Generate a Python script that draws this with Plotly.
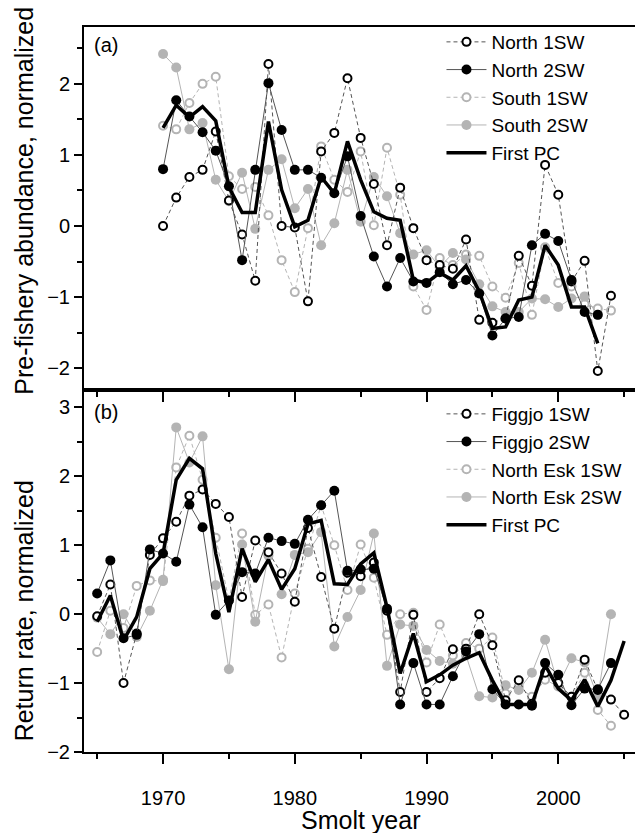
import plotly.graph_objects as go
from plotly.subplots import make_subplots

# ---------------- data ----------------
years_a = list(range(1970, 2005))
north_1sw = [0.00, 0.40, 0.69, 0.79, 1.33, 0.36, -0.12, -0.77, 2.28, 0.00,
             -0.02, -1.06, 1.05, 1.31, 2.08, 1.24, 0.59, -0.27, 0.54, -0.03,
             -0.48, -0.55, -0.60, -0.19, -1.32, -1.36, -1.30, -0.42, -0.84, 0.86,
             0.44, -0.78, -0.49, -2.04, -0.98]
north_2sw = [0.80, 1.77, 1.54, 1.32, 1.06, 0.56, -0.48, 0.79, 2.01, 1.35,
             0.79, 0.79, 0.68, 0.46, 0.98, 0.14, -0.43, -0.85, -0.45, -0.78,
             -0.80, -0.65, -0.82, -0.76, -0.95, -1.54, -1.30, -1.28, -0.27, -0.11,
             -0.21, -0.76, -1.21, -1.25, None]
south_1sw = [1.41, 1.36, 1.73, 2.00, 2.10, 0.70, 0.52, 0.55, 0.15, -0.48,
             -0.93, -0.03, 1.12, 0.65, 0.48, 1.05, 0.01, 1.10, 0.44, -0.85,
             -1.18, -0.45, -0.55, -0.40, -0.42, -0.85, -1.01, -0.52, -1.25, -0.30,
             -0.80, -0.85, -1.10, -1.16, -1.19]
south_2sw = [2.42, 2.23, 1.36, 1.45, 0.65, 0.35, 0.75, -0.04, 0.79, 0.94,
             0.25, 0.52, -0.27, 0.04, 0.79, 0.06, 0.69, 0.42, -0.10, -0.40,
             -0.34, -0.58, -0.38, -0.47, -0.82, -1.13, -1.21, -1.21, -1.02, -1.03,
             -1.14, -1.02, -0.99, -1.25, None]
pc_a = [1.38, 1.70, 1.53, 1.68, 1.48, 0.55, 0.19, 0.19, 1.47, 0.51,
        -0.01, 0.08, 0.69, 0.46, 1.19, 0.65, 0.20, 0.11, 0.08, -0.76,
        -0.80, -0.66, -0.76, -0.56, -0.92, -1.44, -1.42, -1.04, -1.00, -0.27,
        -0.55, -1.14, -1.14, -1.65, None]

years_b = list(range(1965, 2006))
figgjo_1sw = [-0.03, 0.43, -1.00, -0.28, 0.86, 1.10, 1.34, 1.72, 1.81, 1.60,
              1.41, 0.25, 1.07, 0.90, 0.59, 0.18, 1.25, 0.54, -0.21, 0.60,
              0.55, 0.75, 0.05, -1.13, -0.01, -1.13, -0.93, -0.51, -0.50, 0.00,
              -0.45, -1.25, -0.96, -1.30, -0.85, -1.00, -1.20, -0.66, -1.10, -1.24,
              -1.46]
figgjo_2sw = [0.30, 0.78, -0.35, -0.30, 0.94, 0.88, 0.76, 1.59, 1.26, -0.01,
              0.20, 0.61, 0.59, 1.11, 1.06, 1.02, 1.37, 1.58, 1.79, 0.63,
              0.65, 0.66, 0.08, -1.31, -0.71, -1.31, -1.31, -0.90, -0.54, -0.29,
              -1.09, -1.31, -1.31, -1.33, -0.71, -0.88, -1.32, -1.08, -1.09, -0.71,
              None]
north_esk_1sw = [-0.55, 0.05, -0.20, 0.41, 0.49, 0.48, 2.13, 2.59, 1.95, 1.11,
                 0.20, 1.17, -0.01, 0.14, -0.63, 0.30, 0.95, 1.58, 1.00, 0.35,
                 1.01, 0.53, -0.30, 0.00, 0.02, -0.70, -0.15, -0.60, -0.42, -0.50,
                 -0.34, -1.15, -1.05, -1.20, -0.95, -1.05, -1.20, -0.85, -1.39, -1.62,
                 None]
north_esk_2sw = [-0.05, -0.29, 0.00, -0.33, 0.05, 0.50, 2.71, 2.20, 2.58, 0.42,
                 -0.80, 1.01, -0.11, 0.85, 0.29, 0.86, 0.90, 1.19, -0.47, -0.04,
                 0.35, 1.17, -0.75, -0.15, -0.17, -0.52, -0.68, -0.72, -0.60, -1.19,
                 -1.21, -1.03, -1.10, -0.85, -0.37, -1.03, -0.64, -0.70, -1.20, 0.00,
                 None]
pc_b = [-0.11, 0.27, -0.38, -0.04, 0.66, 0.88, 1.95, 2.26, 2.11, 0.88,
        0.03, 0.95, 0.47, 0.79, 0.36, 0.66, 1.31, 1.36, 0.44, 0.43,
        0.73, 0.89, 0.10, -0.86, -0.28, -0.98, -0.88, -0.74, -0.64, -0.56,
        -0.96, -1.31, -1.31, -1.31, -0.74, -1.08, -1.25, -0.95, -1.34, -0.96,
        -0.39]

# ---------------- styles ----------------
DARK_LINE = "#555555"
LIGHT = "#b4b4b4"
DASH = "4px,3px"
FONT = "Liberation Sans, Arial, sans-serif"

fig = make_subplots(rows=2, cols=1, shared_xaxes=False, vertical_spacing=0)


def add_series(x, y, name, row, legend, rank, kind):
    if kind == "open_dark":
        line = dict(color=DARK_LINE, width=1, dash=DASH)
        marker = dict(symbol="circle", size=8, color="white",
                      line=dict(color="black", width=2))
    elif kind == "fill_dark":
        line = dict(color=DARK_LINE, width=1)
        marker = dict(symbol="circle", size=10, color="black",
                      line=dict(color="black", width=0))
    elif kind == "open_light":
        line = dict(color=LIGHT, width=1, dash=DASH)
        marker = dict(symbol="circle", size=8, color="white",
                      line=dict(color=LIGHT, width=2))
    else:
        line = dict(color=LIGHT, width=1)
        marker = dict(symbol="circle", size=10, color=LIGHT,
                      line=dict(color=LIGHT, width=0))
    fig.add_trace(go.Scatter(x=x, y=y, name=name, mode="lines+markers",
                             line=line, marker=marker, legend=legend,
                             legendrank=rank, connectgaps=False),
                  row=row, col=1)


def add_pc(x, y, row, legend):
    fig.add_trace(go.Scatter(x=x, y=y, name="First PC", mode="lines",
                             line=dict(color="black", width=3.5),
                             legend=legend, legendrank=5),
                  row=row, col=1)


# panel (a)
add_series(years_a, south_1sw, "South 1SW", 1, "legend", 3, "open_light")
add_series(years_a, south_2sw, "South 2SW", 1, "legend", 4, "fill_light")
add_series(years_a, north_1sw, "North 1SW", 1, "legend", 1, "open_dark")
add_series(years_a, north_2sw, "North 2SW", 1, "legend", 2, "fill_dark")
add_pc(years_a, pc_a, 1, "legend")

# panel (b)
add_series(years_b, north_esk_1sw, "North Esk 1SW", 2, "legend2", 3, "open_light")
add_series(years_b, north_esk_2sw, "North Esk 2SW", 2, "legend2", 4, "fill_light")
add_series(years_b, figgjo_1sw, "Figgjo 1SW", 2, "legend2", 1, "open_dark")
add_series(years_b, figgjo_2sw, "Figgjo 2SW", 2, "legend2", 2, "fill_dark")
add_pc(years_b, pc_b, 2, "legend2")

axis_common = dict(showline=True, linecolor="black", linewidth=2, mirror=True,
                   showgrid=False, zeroline=False, ticks="outside",
                   tickcolor="black", tickwidth=1.5,
                   tickfont=dict(size=20, color="black", family=FONT))

xr = [1964.0, 2005.9]
fig.update_xaxes(range=xr, tick0=1970, dtick=10, ticklen=10,
                 minor=dict(dtick=5, tick0=1965, ticklen=5, ticks="outside",
                            tickcolor="black", tickwidth=1.5),
                 **axis_common)
fig.update_xaxes(showticklabels=False, row=1, col=1)
fig.update_xaxes(row=2, col=1, ticklabelstandoff=17)

fig.update_yaxes(range=[-2.3, 2.8], tick0=0, dtick=1, ticklen=8,
                 minor=dict(dtick=0.5, ticklen=5, ticks="outside",
                            tickcolor="black", tickwidth=1.5),
                 row=1, col=1, **axis_common)
fig.update_yaxes(range=[-2.0, 3.26], tick0=0, dtick=1, ticklen=8,
                 minor=dict(dtick=0.5, ticklen=5, ticks="outside",
                            tickcolor="black", tickwidth=1.5),
                 row=2, col=1, **axis_common)

legend_style = dict(font=dict(size=19, color="black", family=FONT),
                    bgcolor="rgba(0,0,0,0)", borderwidth=0,
                    tracegroupgap=0, itemwidth=40,
                    xanchor="left", yanchor="top", traceorder="normal")

title_font = dict(size=25, color="black", family=FONT)

# the page body adds an 8 px offset; figure is sized to fit the 643x833 window
fig.update_layout(
    width=635, height=825,
    margin=dict(l=76, r=5, t=19, b=81),
    paper_bgcolor="white", plot_bgcolor="white",
    font=dict(family=FONT, color="black"),
    showlegend=True,
    legend=dict(x=0.6476, y=1.0055, **legend_style),
    legend2=dict(x=0.6476, y=0.4924, **legend_style),
    annotations=[
        dict(text="(a)", xref="x domain", yref="y domain", x=0.015, y=0.985,
             xanchor="left", yanchor="top", showarrow=False,
             font=dict(size=20, color="black", family=FONT)),
        dict(text="(b)", xref="x2 domain", yref="y2 domain", x=0.015, y=0.973,
             xanchor="left", yanchor="top", showarrow=False,
             font=dict(size=20, color="black", family=FONT)),
        dict(text="Pre-fishery abundance, normalized", xref="paper", yref="paper",
             x=-0.108, y=0.761, xanchor="center", yanchor="middle",
             textangle=-90, showarrow=False, font=title_font),
        dict(text="Return rate, normalized", xref="paper", yref="paper",
             x=-0.108, y=0.1945, xanchor="center", yanchor="middle",
             textangle=-90, showarrow=False, font=title_font),
        dict(text="Smolt year", xref="paper", yref="paper",
             x=0.5, y=-0.0935, xanchor="center", yanchor="middle",
             showarrow=False, font=title_font),
    ],
)

fig.write_html("out.html")
